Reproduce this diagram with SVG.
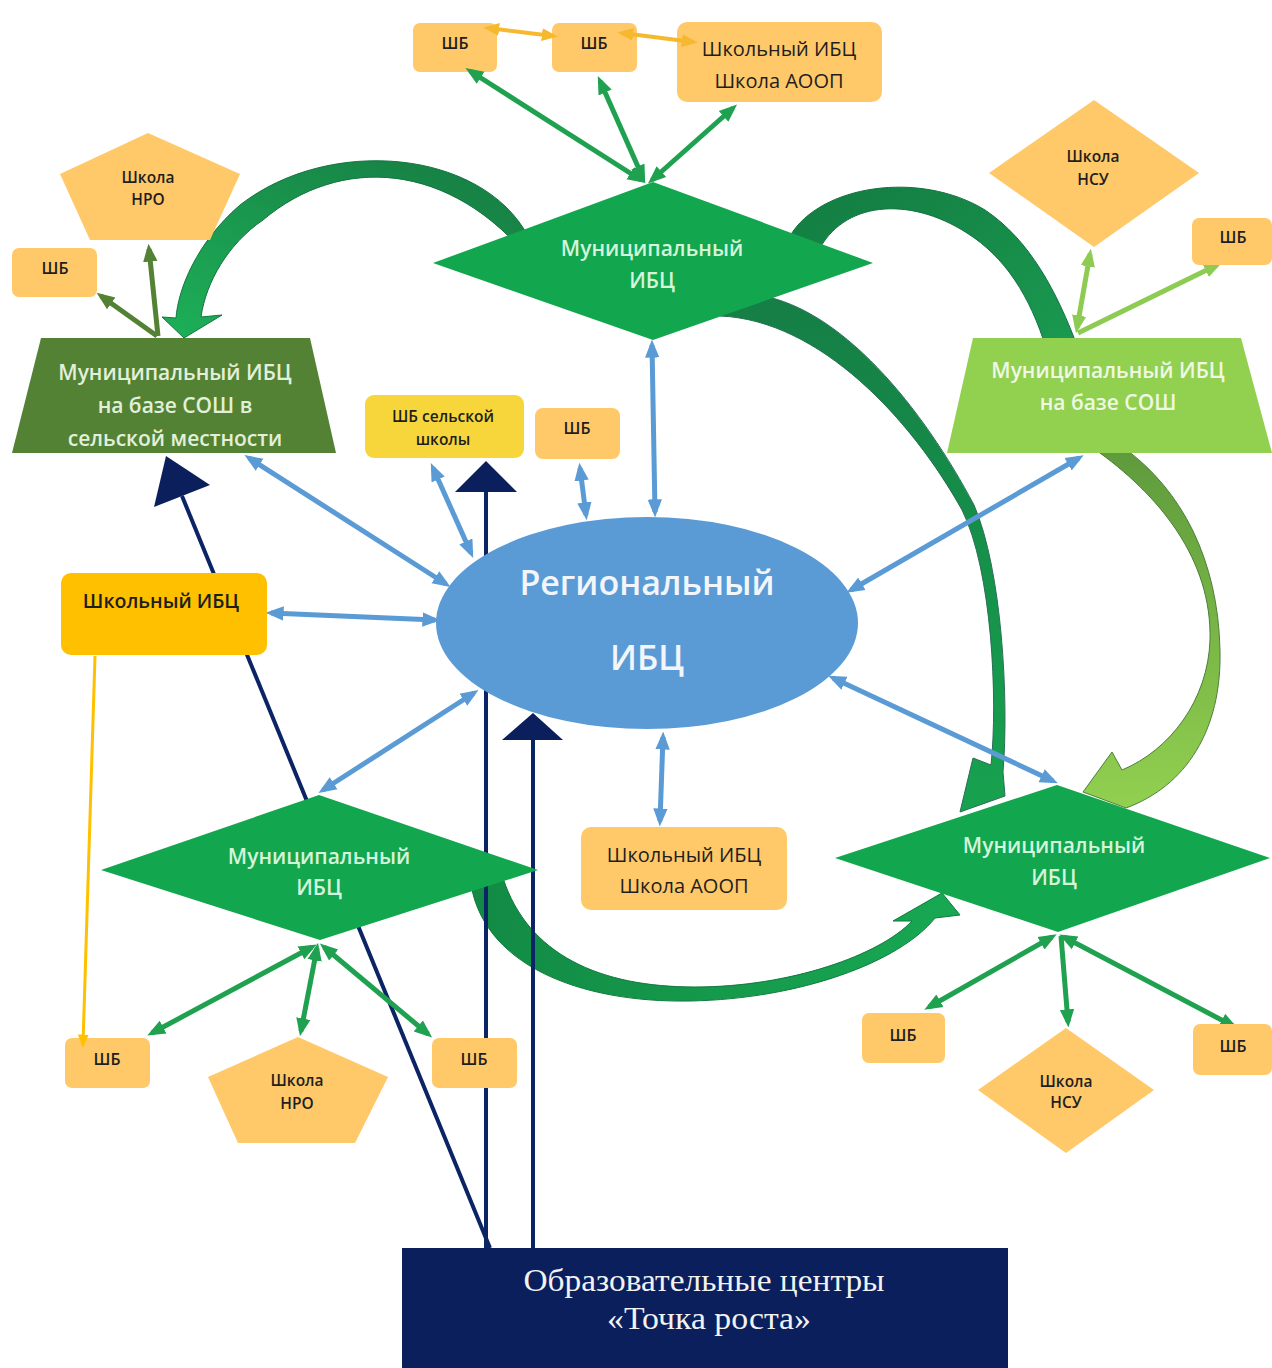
<svg xmlns="http://www.w3.org/2000/svg" width="1272" height="1368" viewBox="0 0 1272 1368">
<defs>
<style>
.t{font-family:"Open Sans","Noto Sans","DejaVu Sans",sans-serif;text-anchor:middle}
.sb{font-size:16px;font-weight:600;fill:#1e1e1e}
.sm{font-size:15.5px;font-weight:600;fill:#1e1e1e}
.mid{font-size:20px;font-weight:400;fill:#1e1e1e}
.gw{font-size:21px;font-weight:600}
.box{fill:#FFC869}
.dia{fill:#12A64E}
.dt{fill:#D3F5DA}
.ln{fill:none}
.blue{stroke:#5B9BD5;stroke-width:5;marker-start:url(#aB);marker-end:url(#aB)}
.grn{stroke:#1FA150;stroke-width:5;marker-start:url(#aG);marker-end:url(#aG)}
.grn1{stroke:#1FA150;stroke-width:5;marker-end:url(#aG)}
.org{stroke:#F5B82E;stroke-width:4;marker-start:url(#aO);marker-end:url(#aO)}
.dg{stroke:#548235;stroke-width:5;marker-end:url(#aD)}
.lg{stroke:#8DCB52;stroke-width:5;marker-end:url(#aL)}
.lg2{stroke:#8DCB52;stroke-width:5;marker-start:url(#aL);marker-end:url(#aL)}
.yl{stroke:#FFC000;stroke-width:3;marker-end:url(#aY)}
.nv{stroke:#0B2466;stroke-width:4}
.nvh{fill:#0A1F5C}
.serif{font-family:"Liberation Serif","Times New Roman",serif;font-size:32px;fill:#F2F2F2;text-anchor:middle}
</style>
<marker id="aB" viewBox="0 0 10 10" refX="7" refY="5" markerWidth="3.6" markerHeight="3.6" orient="auto-start-reverse" markerUnits="strokeWidth"><path d="M0,1 L10,5 L0,9 z" fill="#5B9BD5"/></marker>
<marker id="aG" viewBox="0 0 10 10" refX="7" refY="5" markerWidth="3.6" markerHeight="3.6" orient="auto-start-reverse" markerUnits="strokeWidth"><path d="M0,1 L10,5 L0,9 z" fill="#1FA150"/></marker>
<marker id="aO" viewBox="0 0 10 10" refX="7" refY="5" markerWidth="4" markerHeight="4" orient="auto-start-reverse" markerUnits="strokeWidth"><path d="M0,1 L10,5 L0,9 z" fill="#F5B82E"/></marker>
<marker id="aD" viewBox="0 0 10 10" refX="7" refY="5" markerWidth="3.6" markerHeight="3.6" orient="auto-start-reverse" markerUnits="strokeWidth"><path d="M0,1 L10,5 L0,9 z" fill="#548235"/></marker>
<marker id="aL" viewBox="0 0 10 10" refX="7" refY="5" markerWidth="3.6" markerHeight="3.6" orient="auto-start-reverse" markerUnits="strokeWidth"><path d="M0,1 L10,5 L0,9 z" fill="#8DCB52"/></marker>
<marker id="aY" viewBox="0 0 10 10" refX="7" refY="5" markerWidth="4.5" markerHeight="4.5" orient="auto-start-reverse" markerUnits="strokeWidth"><path d="M0,1 L10,5 L0,9 z" fill="#FFC000"/></marker>
<linearGradient id="gA" x1="1" y1="0" x2="0" y2="1"><stop offset="0" stop-color="#167A42"/><stop offset="1" stop-color="#1DB058"/></linearGradient>
<linearGradient id="gB" x1="0" y1="0" x2="1" y2="1"><stop offset="0" stop-color="#137C42"/><stop offset="1" stop-color="#1A9A50"/></linearGradient>
<linearGradient id="gC" x1="0" y1="0" x2="0" y2="1"><stop offset="0" stop-color="#157E45"/><stop offset="1" stop-color="#17A24F"/></linearGradient>
<linearGradient id="gD" x1="0" y1="0" x2="0" y2="1"><stop offset="0" stop-color="#5E9A3C"/><stop offset="1" stop-color="#92D050"/></linearGradient>
<linearGradient id="gE" x1="0" y1="0" x2="1" y2="0"><stop offset="0" stop-color="#128A45"/><stop offset="1" stop-color="#18A852"/></linearGradient>
</defs>
<rect width="1272" height="1368" fill="#FFFFFF"/>

<g id="top-shb1"><rect class="box" x="413" y="23" width="84" height="49" rx="7"/><text class="t sb" x="455" y="49">ШБ</text></g>
<g id="top-shb2"><rect class="box" x="552" y="23" width="85" height="49" rx="7"/><text class="t sb" x="594" y="49">ШБ</text></g>
<g id="top-school"><rect class="box" x="677" y="22" width="205" height="80" rx="10"/><text class="t mid" x="779" y="56">Школьный ИБЦ</text><text class="t mid" x="779" y="88">Школа АООП</text></g>
<g id="bl-shb1"><rect class="box" x="65" y="1038" width="85" height="50" rx="7"/><text class="t sb" x="107" y="1065">ШБ</text></g>

<g id="connectors">
  <!-- curved block arrows -->
  <path d="M 528,236 C 482,150 330,135 240,205 C 196,243 178,290 176,318 L 162,317 L 184,338 L 222,315 L 201,317 C 206,282 228,244 263,220 C 340,155 450,160 532,262 Z" fill="url(#gA)" stroke="#147540" stroke-width="1"/>
  <path d="M 790,236 C 820,185 920,170 985,210 C 1030,240 1057,292 1078,348 L 1046,348 C 1030,296 1005,257 967,233 C 908,195 842,202 818,252 Z" fill="url(#gB)" stroke="#127040" stroke-width="1"/>
  <path d="M 720,316 C 820,320 912,420 962,510 C 992,570 998,700 991,765 L 973,758 L 960,812 L 1005,796 L 1003,772 C 1009,700 1002,570 974,505 C 925,412 840,302 750,294 Z" fill="url(#gC)" stroke="#2A6E55" stroke-width="1"/>
  <path d="M 1093,448 C 1160,495 1212,560 1210,640 C 1208,700 1170,750 1122,770 L 1112,752 L 1083,792 L 1126,808 C 1186,786 1222,730 1220,650 C 1218,560 1182,490 1124,448 Z" fill="url(#gD)" stroke="#4E7F3A" stroke-width="1"/>
  <path d="M 470,878 C 480,965 580,1003 690,1001 C 800,999 900,962 935,918 L 960,915 L 942,893 L 893,921 L 912,921 C 880,955 790,987 695,987 C 600,987 528,955 503,878 Z" fill="url(#gE)" stroke="#0F7A3C" stroke-width="1"/>

  <!-- navy lines from Точка роста -->
  <line class="nv" x1="490" y1="1248" x2="182" y2="496"/>
  <polygon class="nvh" points="154,507 210,485 166,456"/>
  <line class="nv" x1="486" y1="1248" x2="486" y2="490"/>
  <polygon class="nvh" points="455,492 517,492 486,461"/>
  <line class="nv" x1="533" y1="1248" x2="533" y2="738"/>
  <polygon class="nvh" points="502,740 563,740 533,713"/>

  <!-- blue links to Региональный ИБЦ -->
  <line class="ln blue" x1="652" y1="345" x2="655" y2="512"/>
  <line class="ln blue" x1="433" y1="468" x2="471" y2="553"/>
  <line class="ln blue" x1="580" y1="468" x2="586" y2="515"/>
  <line class="ln blue" x1="249" y1="458" x2="446" y2="584"/>
  <line class="ln blue" x1="271" y1="613" x2="435" y2="620"/>
  <line class="ln blue" x1="323" y1="790" x2="474" y2="693"/>
  <line class="ln blue" x1="663" y1="737" x2="660" y2="821"/>
  <line class="ln blue" x1="1079" y1="458" x2="851" y2="590"/>
  <line class="ln blue" x1="833" y1="678" x2="1053" y2="781"/>

  <!-- top cluster -->
  <line class="ln grn" x1="641" y1="180" x2="470" y2="71"/>
  <line class="ln grn" x1="643" y1="178" x2="600" y2="81"/>
  <line class="ln grn" x1="652" y1="180" x2="733" y2="108"/>
  <line class="ln org" x1="488" y1="28" x2="553" y2="36"/>
  <line class="ln org" x1="622" y1="33" x2="693" y2="42"/>

  <!-- left cluster -->
  <line class="ln dg" x1="157" y1="336" x2="101" y2="296"/>
  <line class="ln dg" x1="158" y1="336" x2="149" y2="249"/>

  <!-- right cluster -->
  <line class="ln lg2" x1="1077" y1="328" x2="1090" y2="254"/>
  <line class="ln lg" x1="1078" y1="333" x2="1217" y2="265"/>

  <!-- Школьный ИБЦ to ШБ -->
  <line class="ln yl" x1="95" y1="656" x2="83" y2="1044"/>

  <!-- bottom-left cluster -->
  <line class="ln grn" x1="312" y1="947" x2="152" y2="1033"/>
  <line class="ln grn" x1="317" y1="948" x2="301" y2="1031"/>
  <line class="ln grn" x1="324" y1="947" x2="428" y2="1034"/>

  <!-- bottom-right cluster -->
  <line class="ln grn" x1="1052" y1="937" x2="929" y2="1007"/>
  <line class="ln grn1" x1="1061" y1="936" x2="1068" y2="1022"/>
  <line class="ln grn" x1="1064" y1="937" x2="1233" y2="1026"/>
</g>

<g id="mun-top"><polygon class="dia" points="433,263 653,182 873,263 653,340"/><text class="t gw dt" x="652" y="256">Муниципальный</text><text class="t gw dt" x="652" y="288">ИБЦ</text></g>

<g id="left-nro"><polygon class="box" points="148,133 240,174 210,240 90,240 60,174"/><text class="t sm" x="148" y="183">Школа</text><text class="t sm" x="148" y="205">НРО</text></g>
<g id="left-shb"><rect class="box" x="12" y="248" width="85" height="49" rx="7"/><text class="t sb" x="55" y="274">ШБ</text></g>
<g id="mun-rural"><polygon fill="#548235" points="41,338 310,338 336,453 12,453"/><text class="t gw" fill="#E2F0D9" x="175" y="380">Муниципальный ИБЦ</text><text class="t gw" fill="#E2F0D9" x="175" y="413">на базе СОШ в</text><text class="t gw" fill="#E2F0D9" x="175" y="446">сельской местности</text></g>

<g id="right-nsu"><polygon class="box" points="1094,100 1199,173 1094,247 989,173"/><text class="t sm" x="1093" y="162">Школа</text><text class="t sm" x="1093" y="185">НСУ</text></g>
<g id="right-shb"><rect class="box" x="1192" y="218" width="80" height="47" rx="7"/><text class="t sb" x="1233" y="243">ШБ</text></g>
<g id="mun-sosh"><polygon fill="#92D050" points="973,338 1241,338 1272,453 947,453"/><text class="t gw" fill="#EEF8E4" x="1108" y="378">Муниципальный ИБЦ</text><text class="t gw" fill="#EEF8E4" x="1108" y="410">на базе СОШ</text></g>

<g id="shb-rural"><rect fill="#F7D63C" x="365" y="395" width="159" height="63" rx="9"/><text class="t sm" x="443" y="422">ШБ сельской</text><text class="t sm" x="443" y="445">школы</text></g>
<g id="shb-mid"><rect class="box" x="535" y="408" width="85" height="51" rx="8"/><text class="t sb" x="577" y="434">ШБ</text></g>

<g id="regional"><ellipse cx="647" cy="623" rx="211" ry="106" fill="#5B9BD5"/><text class="t" font-size="34" font-weight="600" fill="#F2F6FB" x="647" y="595">Региональный</text><text class="t" font-size="34" font-weight="600" fill="#F2F6FB" x="647" y="670">ИБЦ</text></g>

<g id="school-ibc-left"><rect fill="#FFC000" x="61" y="573" width="206" height="82" rx="10"/><text class="t" font-size="19.5" font-weight="600" fill="#1e1e1e" x="161" y="608">Школьный ИБЦ</text></g>

<g id="mun-bl"><polygon class="dia" points="101,870 319,795 538,870 320,940"/><text class="t gw dt" x="319" y="864">Муниципальный</text><text class="t gw dt" x="319" y="895">ИБЦ</text></g>
<g id="mun-br"><polygon class="dia" points="835,858 1057,785 1270,858 1058,932"/><text class="t gw dt" x="1054" y="853">Муниципальный</text><text class="t gw dt" x="1054" y="885">ИБЦ</text></g>

<g id="school-aoop"><rect class="box" x="581" y="827" width="206" height="83" rx="10"/><text class="t mid" x="684" y="862">Школьный ИБЦ</text><text class="t mid" x="684" y="893">Школа АООП</text></g>

<g id="bl-nro"><polygon class="box" points="298,1037 388,1077 355,1143 238,1143 208,1077"/><text class="t sm" x="297" y="1086">Школа</text><text class="t sm" x="297" y="1109">НРО</text></g>
<g id="bl-shb2"><rect class="box" x="432" y="1038" width="85" height="50" rx="7"/><text class="t sb" x="474" y="1065">ШБ</text></g>

<g id="br-shb1"><rect class="box" x="862" y="1013" width="83" height="50" rx="7"/><text class="t sb" x="903" y="1041">ШБ</text></g>
<g id="br-nsu"><polygon class="box" points="1066,1028 1154,1090 1066,1153 978,1090"/><text class="t sm" x="1066" y="1087">Школа</text><text class="t sm" x="1066" y="1108">НСУ</text></g>
<g id="br-shb2"><rect class="box" x="1193" y="1024" width="79" height="51" rx="7"/><text class="t sb" x="1233" y="1052">ШБ</text></g>

<g id="tochka-rosta"><rect x="402" y="1248" width="606" height="120" fill="#0A1F5C"/><text class="serif" x="704" y="1291" textLength="361" lengthAdjust="spacingAndGlyphs">Образовательные центры</text><text class="serif" x="709" y="1329" textLength="204" lengthAdjust="spacingAndGlyphs">«Точка роста»</text></g>
</svg>
